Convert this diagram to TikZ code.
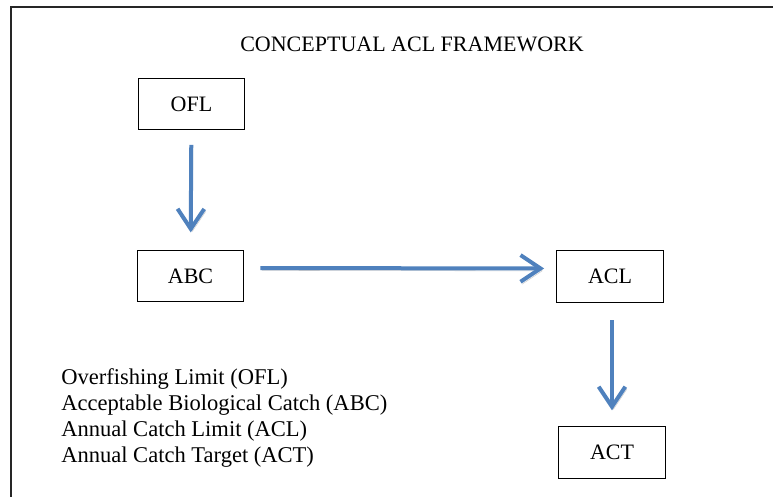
\documentclass[tikz,border=0pt]{standalone}
\usepackage{fontspec}
\setmainfont{Liberation Serif}
\usepackage{xcolor}
\usetikzlibrary{arrows.meta,positioning}
\definecolor{acl}{HTML}{4F81BD}

\begin{document}
\begin{tikzpicture}[x=0.75pt,y=0.75pt,font=\fontsize{16.5}{19.5}\selectfont,
  box/.style={draw=black,line width=0.8pt,minimum width=80pt,minimum height=38.5pt,inner sep=0pt},
  arr/.style={draw=acl,line width=3pt,-{Straight Barb[length=15pt,width=20pt]},
    preaction={draw=black!20,transform canvas={shift={(1.2pt,-1.8pt)}}}}]
\useasboundingbox (0,0) rectangle (773,496);
\clip (0,0) rectangle (773,496);
\draw[line width=1.8pt,black!85] (11,-20) -- (11,489) -- (800,489);
\node (title) at (412,452) {CONCEPTUAL ACL FRAMEWORK};
\node[box] (ofl) at (191.5,392) {OFL};
\node[box] (abc) at (190.5,220) {ABC};
\node[box] (acl) at (610,219.5) {ACL};
\node[box] (act) at (612,43.5) {ACT};
\node[anchor=north west,align=left,inner sep=0pt,font=\fontsize{16.9}{19.6}\selectfont] (legend) at (61,128)
  {Overfishing Limit (OFL)\\Acceptable Biological Catch (ABC)\\Annual Catch Limit (ACL)\\Annual Catch Target (ACT)};
\draw[arr,shorten <=11pt,shorten >=13pt] (ofl) -- (abc);
\draw[arr,shorten <=12pt,shorten >=9pt] ([yshift=6pt]abc.east) -- ([yshift=6pt]acl.west);
\draw[arr,shorten <=13pt,shorten >=12pt] (acl.south -| act.north) -- (act.north);
\end{tikzpicture}
\end{document}
